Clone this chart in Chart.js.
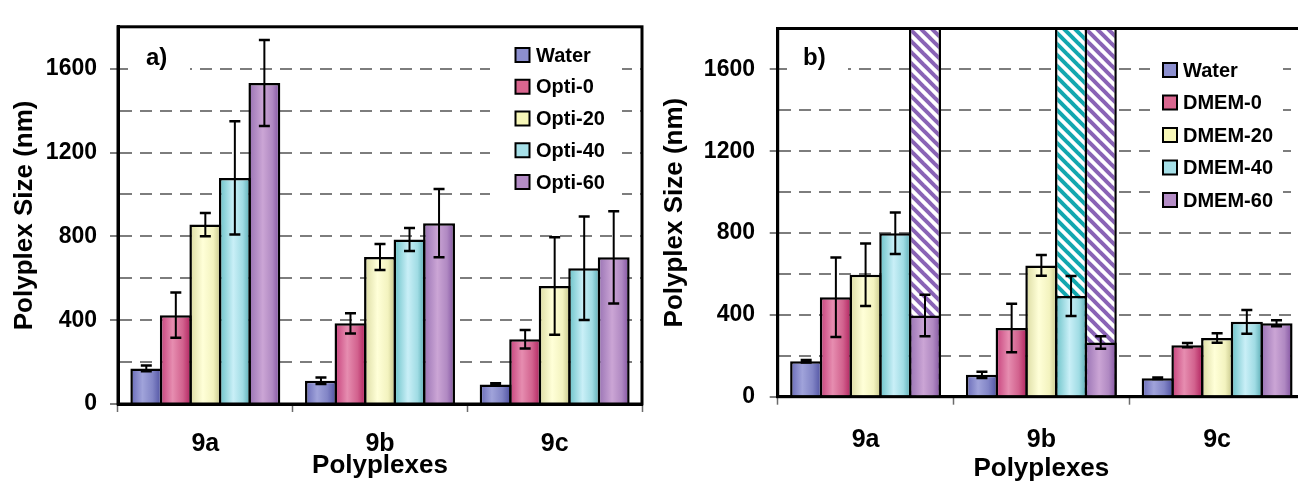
<!DOCTYPE html>
<html><head><meta charset="utf-8">
<script src="https://cdn.jsdelivr.net/npm/chart.js@4.4.1/dist/chart.umd.min.js"></script>
<style>
html,body{margin:0;padding:0;background:#fff;overflow:hidden;width:1298px;height:485px;position:relative;}
#ca{position:absolute;left:0;top:0;}
#cb{position:absolute;left:650px;top:0;}
</style></head><body>
<canvas id="ca" width="650" height="485"></canvas>
<canvas id="cb" width="660" height="485"></canvas>
<script>
// ---------- data ----------
const categories = ['9a', '9b', '9c'];
const yTickLabels = [0, 400, 800, 1200, 1600];
const namesA = ['Water', 'Opti-0', 'Opti-20', 'Opti-40', 'Opti-60'];
const namesB = ['Water', 'DMEM-0', 'DMEM-20', 'DMEM-40', 'DMEM-60'];

// panel a)
const waterA   = [170, 111, 93];   const waterAErr  = [14, 15, 6];
const opti0    = [424, 385, 309];  const opti0Err   = [108, 48, 44];
const opti20   = [856, 701, 563];  const opti20Err  = [56, 62, 233];
const opti40   = [1079, 785, 648]; const opti40Err  = [270, 55, 247];
const opti60   = [1532, 863, 700]; const opti60Err  = [205, 163, 220];

// panel b)
const waterB   = [173, 107, 90];   const waterBErr  = [6, 15, 4];
const dmem0    = [486, 336, 252];  const dmem0Err   = [194, 119, 10];
const dmem20   = [596, 642, 287];  const dmem20Err  = [153, 51, 23];
const dmem40   = [799, 492, 366];  const dmem40Err  = [102, 98, 58];
const dmem60   = [397, 265, 359];  const dmem60Err  = [102, 30, 15];
// off-scale aggregate sizes (hatched, beyond the 1800 axis top)
const dmem40Agg = [null, 2000, null];
const dmem60Agg = [2000, 2000, null];

// ---------- styles ----------
const FONT = "'Liberation Sans', Arial, Helvetica, sans-serif";
const STYLES = [
  {stops: [[0, '#6668B6'], [0.38, '#A0A3DA'], [0.7, '#8285C6'], [1, '#4A4C9E']], flat: '#8C8FCF'},
  {stops: [[0, '#C63F7A'], [0.4, '#E68DB0'], [0.72, '#D2628E'], [1, '#AE1C5A']], flat: '#D9668F'},
  {stops: [[0, '#DADAA0'], [0.42, '#FFFFD8'], [0.75, '#F3F3BF'], [1, '#C2C286']], flat: '#F7F7B8'},
  {stops: [[0, '#66C0C6'], [0.45, '#C9EFF7'], [0.75, '#A0DCE4'], [1, '#54A8B0']], flat: '#A6E0E8'},
  {stops: [[0, '#9670B2'], [0.45, '#CBA5D5'], [0.75, '#B089C2'], [1, '#7E4E9E']], flat: '#B48CC6'}
];

function gradFill(i) {
  const st = STYLES[i];
  return (c) => {
    const el = c.element;
    if (!el || typeof el.x !== 'number' || isNaN(el.x) || !el.width) return st.flat;
    const g = c.chart.ctx.createLinearGradient(el.x - el.width / 2, 0, el.x + el.width / 2, 0);
    st.stops.forEach(([o, col]) => g.addColorStop(o, col));
    return g;
  };
}

function hatch(color) {
  const s = 11;
  const cv = document.createElement('canvas');
  cv.width = s; cv.height = s;
  const g = cv.getContext('2d');
  g.fillStyle = '#fff'; g.fillRect(0, 0, s, s);
  g.strokeStyle = color; g.lineWidth = 4;
  for (const k of [-s, 0, s]) {
    g.beginPath(); g.moveTo(k - 2, -2); g.lineTo(k + s + 2, s + 2); g.stroke();
  }
  return g.createPattern(cv, 'repeat');
}

const overlayPlugin = {
  id: 'overlay',
  afterDatasetsDraw(chart, args, o) {
    const ctx = chart.ctx, y = chart.scales.y, ca = chart.chartArea;
    ctx.save();
    // error bars
    chart.data.datasets.forEach((ds, i) => {
      if (!ds.errors) return;
      const meta = chart.getDatasetMeta(i);
      meta.data.forEach((el, j) => {
        const v = ds.data[j], e = ds.errors[j];
        if (v == null || e == null) return;
        const yt = y.getPixelForValue(v + e), yb = y.getPixelForValue(v - e);
        ctx.strokeStyle = '#000';
        ctx.lineWidth = 2;
        ctx.beginPath(); ctx.moveTo(el.x, yt); ctx.lineTo(el.x, yb); ctx.stroke();
        ctx.lineWidth = 2.5;
        ctx.beginPath();
        ctx.moveTo(el.x - 5.5, yt); ctx.lineTo(el.x + 5.5, yt);
        ctx.moveTo(el.x - 5.5, yb); ctx.lineTo(el.x + 5.5, yb);
        ctx.stroke();
      });
    });
    // frame
    ctx.strokeStyle = '#000'; ctx.lineWidth = 3;
    ctx.strokeRect(ca.left, ca.top, ca.right - ca.left, ca.bottom - ca.top);
    // panel label
    ctx.fillStyle = '#fff';
    ctx.fillRect(o.labelBox[0], o.labelBox[1], o.labelBox[2], o.labelBox[3]);
    ctx.fillStyle = '#000';
    ctx.font = 'bold 24px ' + FONT;
    ctx.textAlign = 'left'; ctx.textBaseline = 'middle';
    ctx.fillText(o.label, o.labelX, o.labelY);
    // legend
    ctx.fillStyle = '#fff';
    ctx.fillRect(o.legBox[0], o.legBox[1], o.legBox[2], o.legBox[3]);
    ctx.font = 'bold 20px ' + FONT;
    o.names.forEach((n, k) => {
      const cy = o.rowStart + k * o.rowStep;
      ctx.fillStyle = STYLES[k].flat;
      ctx.fillRect(o.sqX, cy - 7, 14, 14);
      ctx.strokeStyle = '#000'; ctx.lineWidth = 2;
      ctx.strokeRect(o.sqX, cy - 7, 14, 14);
      ctx.fillStyle = '#000';
      ctx.fillText(n, o.textX, cy + 1);
    });
    ctx.restore();
  }
};

function makeChart(canvas, datasets, p) {
  const chart = new Chart(canvas, {
    type: 'bar',
    data: {labels: categories, datasets},
    options: {
      responsive: false, animation: false, devicePixelRatio: 1,
      layout: {padding: {top: p.padTop, right: p.padRight, left: 0, bottom: 0}},
      datasets: {bar: {categoryPercentage: 0.845, barPercentage: 1.08}},
      plugins: {
        legend: {display: false}, tooltip: {enabled: false},
        overlay: p.overlay
      },
      scales: {
        x: {
          grid: {display: true, drawOnChartArea: false, drawTicks: true, tickLength: 8,
                 tickColor: '#6b6b6b', tickWidth: 1.5, offset: true},
          border: {display: true, color: '#000', width: 3},
          ticks: {font: {family: FONT, size: 25, weight: 'bold'}, color: '#000',
                  padding: p.xTickPad, maxRotation: 0},
          title: {display: true, text: 'Polyplexes', color: '#000',
                  font: {family: FONT, size: 26, weight: 'bold'},
                  padding: {top: 0, bottom: p.xTitlePad}},
          afterFit: (s) => { s.height = p.xHeight; }
        },
        y: {
          min: 0, max: 1800, stacked: false,
          ticks: {stepSize: 200, autoSkip: false,
                  callback: (v) => yTickLabels.includes(v) ? String(v) : '',
                  font: {family: FONT, size: 23, weight: 'bold'}, color: '#000',
                  padding: p.yTickPad},
          grid: {
            color: (c) => (c.tick && (c.tick.value === 0 || c.tick.value === 1800)) ? 'rgba(0,0,0,0)' : '#7d7d7d',
            lineWidth: 2, tickLength: 8, tickWidth: 1.5, tickBorderDash: [],
            tickColor: (c) => (c.tick && yTickLabels.includes(c.tick.value)) ? '#555' : 'rgba(0,0,0,0)'
          },
          border: {display: true, color: '#000', width: 3, dash: [12, 8]},
          title: {display: true, text: 'Polyplex Size (nm)', color: '#000',
                  font: {family: FONT, size: 26, weight: 'bold'},
                  padding: {top: p.yTitlePad, bottom: 0}},
          afterFit: (s) => { s.width = p.yWidth; }
        }
      }
    },
    plugins: [overlayPlugin]
  });
  chart.update();
  return chart;
}

const seriesA = [waterA, opti0, opti20, opti40, opti60];
const errsA = [waterAErr, opti0Err, opti20Err, opti40Err, opti60Err];
const dsA = seriesA.map((d, i) => ({
  label: namesA[i], data: d, errors: errsA[i],
  backgroundColor: gradFill(i), borderColor: '#000', borderWidth: 2.5
}));

const seriesB = [waterB, dmem0, dmem20, dmem40, dmem60];
const errsB = [waterBErr, dmem0Err, dmem20Err, dmem40Err, dmem60Err];
const dsB = seriesB.map((d, i) => ({
  label: namesB[i], data: d, errors: errsB[i], stack: 's' + i,
  backgroundColor: gradFill(i), borderColor: '#000', borderWidth: 2.5
}));
dsB.push({label: 'DMEM-40 aggregates', data: dmem40Agg, stack: 's3',
  backgroundColor: hatch('#12A7AF'), borderColor: '#000', borderWidth: 2.5});
dsB.push({label: 'DMEM-60 aggregates', data: dmem60Agg, stack: 's4',
  backgroundColor: hatch('#8963B5'), borderColor: '#000', borderWidth: 2.5});

makeChart(document.getElementById('ca'), dsA, {
  padTop: 15, padRight: 8, yWidth: 118, xHeight: 81,
  xTickPad: 17.5, xTitlePad: 3.9, yTickPad: 13, yTitlePad: 9.4,
  overlay: {label: 'a)', labelX: 146, labelY: 58, labelBox: [128, 44, 62, 28],
            legBox: [490, 33, 132, 169], names: namesA, sqX: 515.5, textX: 536,
            rowStart: 55, rowStep: 31.75}
});

makeChart(document.getElementById('cb'), dsB, {
  padTop: 16, padRight: 5, yWidth: 127.7, xHeight: 88.3,
  xTickPad: 20.3, xTitlePad: 0.4, yTickPad: 14.7, yTitlePad: 8.9,
  overlay: {label: 'b)', labelX: 153, labelY: 58, labelBox: [137, 44, 61, 28],
            legBox: [500, 45, 133, 169], names: namesB, sqX: 513, textX: 533,
            rowStart: 70, rowStep: 32.5}
});
</script>
</body></html>
